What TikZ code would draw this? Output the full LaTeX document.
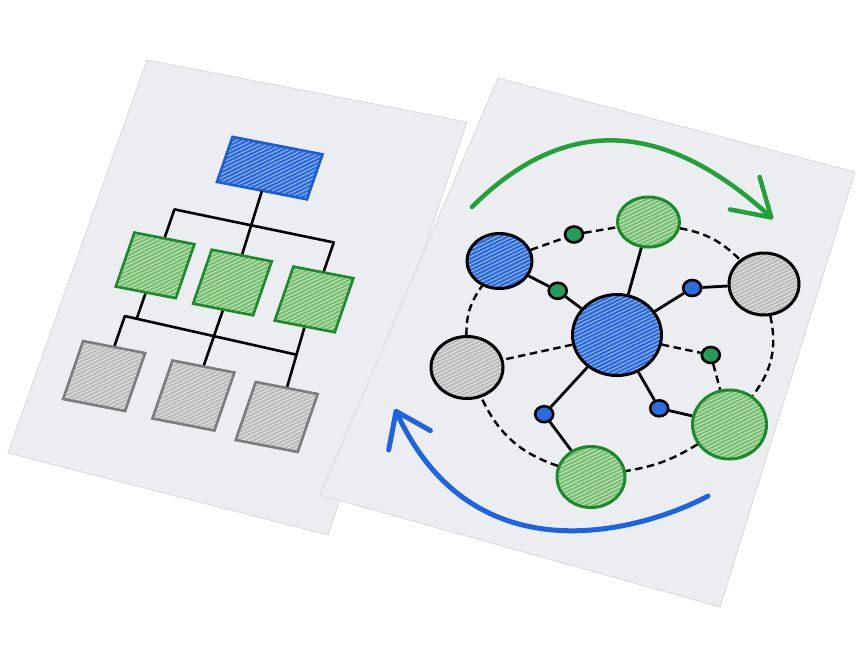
\documentclass[tikz,border=0pt]{standalone}
\usetikzlibrary{shapes.geometric,arrows.meta,patterns.meta}
\definecolor{paper}{RGB}{236,237,241}
\definecolor{bluefill}{RGB}{44,108,226}
\definecolor{blueline}{RGB}{28,92,214}
\definecolor{greenfill}{RGB}{122,192,114}
\definecolor{greenline}{RGB}{26,138,44}
\definecolor{grayfill}{RGB}{188,188,190}
\definecolor{grayline}{RGB}{124,124,126}
\definecolor{dotgreen}{RGB}{38,156,88}
\definecolor{arrowgreen}{RGB}{36,160,56}
\definecolor{arrowblue}{RGB}{30,100,226}
\begin{document}
\begin{tikzpicture}[x=1pt,y=-1pt,
    sheet/.style={fill=paper,draw=black!15,line width=0.8pt,line join=round},
    hatch/.style={pattern={Lines[angle=26,distance=3.4pt,line width=0.8pt]}},
    box/.style={rectangle,inner sep=0pt,line width=2.6pt,transform shape,hatch},
    topbox/.style={box,draw=blueline,preaction={fill=bluefill},pattern color=bluefill!40!white,minimum width=90pt,minimum height=45pt},
    midbox/.style={box,draw=greenline,preaction={fill=greenfill},pattern color=greenfill!35!white,minimum width=60pt,minimum height=54pt},
    lowbox/.style={box,draw=grayline,preaction={fill=grayfill},pattern color=grayfill!35!white,minimum width=62pt,minimum height=58pt},
    tree/.style={line width=2.6pt,line join=round},
    circ/.style={ellipse,inner sep=0pt,line width=3pt,hatch},
    bluecirc/.style={circ,draw=black,preaction={fill=bluefill},pattern color=bluefill!40!white},
    greencirc/.style={circ,draw=greenline,preaction={fill=greenfill},pattern color=greenfill!35!white},
    graycirc/.style={circ,draw=black,preaction={fill=grayfill},pattern color=grayfill!35!white},
    bead/.style={ellipse,inner sep=0pt,minimum width=18pt,minimum height=16pt,line width=2.6pt,draw=black},
    gbead/.style={bead,fill=dotgreen},
    bbead/.style={bead,fill=bluefill},
    link/.style={line width=2.8pt},
    weak/.style={line width=2.4pt,dash pattern=on 7.5pt off 4.5pt},
    greenarc/.style={draw=arrowgreen,line width=4.5pt,line cap=round,-{Straight Barb[length=36pt,width=44pt,round]}},
    bluearc/.style={draw=arrowblue,line width=5pt,line cap=round,-{Straight Barb[length=32pt,width=46pt,round]}}]
  \useasboundingbox (0,0) rectangle (864,649);
  \fill[white] (0,0) rectangle (864,649);
  \draw[sheet] (147,60) -- (467,122) -- (328,535) -- (8,453) -- cycle;
  \begin{scope}[shift={(147,60)},cm={1,-0.194,0.345,1,(0,0)}]
    \draw
      (150,79) node[topbox] (top){}
      (74,191) node[midbox] (g1){}
      (152,193) node[midbox] (g2){}
      (234,194) node[midbox] (g3){}
      (62,304) node[lowbox] (y1){}
      (152,306) node[lowbox] (y2){}
      (237,311) node[lowbox] (y3){};
    \coordinate (j1) at (74,135);
    \coordinate (j3) at (234,137);
    \coordinate (k0) at (62,244);
    \coordinate (k1) at (74,244.5);
    \coordinate (k3) at (235.4,249);
    \begin{scope}[tree]
      \draw (top.south) -- (g2.north);
      \draw (g1.north) -- (j1) -- (j3) -- (g3.north);
      \draw (g1.south) -- (k1);
      \draw (y1.north) -- (k0) -- (k3);
      \draw (g2.south) -- (y2.north);
      \draw (g3.south) -- (y3.north);
    \end{scope}
  \end{scope}
  \draw[sheet] (498,78) -- (855,172) -- (720,607) -- (320,495) -- cycle;
  \draw
    (617,335) node[bluecirc,minimum width=89pt,minimum height=81pt] (hub){}
    (499.5,261) node[bluecirc,minimum width=65pt,minimum height=55pt] (a1){}
    (648.5,222) node[greencirc,minimum width=62pt,minimum height=50pt] (a2){}
    (764,284) node[graycirc,minimum width=70pt,minimum height=62pt] (a3){}
    (729.5,424.5) node[greencirc,minimum width=74pt,minimum height=69pt] (a4){}
    (591,477) node[greencirc,minimum width=68pt,minimum height=61pt] (a5){}
    (467,367.5) node[graycirc,minimum width=72pt,minimum height=62pt] (a6){}
    (574,234.5) node[gbead] (p1){}
    (557.7,290.8) node[gbead] (p2){}
    (692.2,288) node[bbead] (p3){}
    (710.8,355) node[gbead] (p4){}
    (659.2,408.3) node[bbead] (p5){}
    (544.2,414.2) node[bbead] (p6){};
  \begin{scope}[link]
    \draw (a1) to (p2);
    \draw (p2) to (hub);
    \draw (a2) to (hub);
    \draw (hub) to (p3);
    \draw (p3) to (a3);
    \draw (hub) to (p5);
    \draw (p5) to (a4);
    \draw (hub) to (p6);
    \draw (p6) to (a5);
  \end{scope}
  \begin{scope}[weak]
    \draw (hub) to (a6);
    \draw (hub) to (p4);
    \draw (p4) to (a4);
    \draw (a1) to (p1);
    \draw (p1) to (a2);
    \draw (a2) to[bend left=17] (a3);
    \draw (a3) to[bend left=25] (a4);
    \draw (a4) to[bend left=11] (a5);
    \draw (a5) to[bend left=23] (a6);
    \draw (a6) to[bend left=18] (a1);
  \end{scope}
  \coordinate (gtail) at (472,207);
  \coordinate (ghead) at (773,219);
  \draw[greenarc] (gtail) .. controls (569,110) and (669,124) .. (ghead);
  \coordinate (btail) at (708,496);
  \coordinate (bhead) at (395,409);
  \draw[bluearc] (btail) .. controls (660,522) and (479,590) .. (bhead);
\end{tikzpicture}
\end{document}
